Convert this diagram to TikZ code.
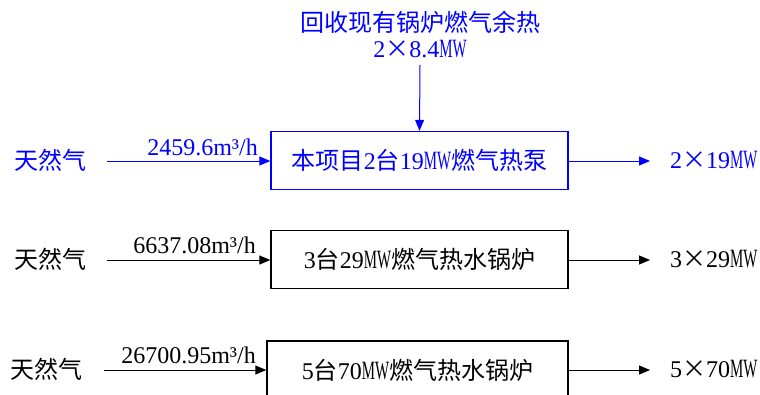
\documentclass[tikz,border=0pt]{standalone}
\usepackage{fontspec}
\usepackage{graphicx}
\setmainfont{Liberation Serif}
\newfontfamily\cjk{Noto Sans CJK SC}
\usetikzlibrary{arrows.meta}
\newcommand{\mwu}{\scalebox{0.62}[1.1]{MW}}
\newcommand{\tms}{{\cjk ×}}
\definecolor{pblue}{RGB}{0,0,255}
\tikzset{
  txt/.style={inner sep=0pt, font=\fontsize{24}{28}\selectfont},
  lbl/.style={inner sep=0pt, anchor=base east, font=\fontsize{24}{28}\selectfont},
  boxst/.style={draw, line width=1.4pt, minimum width=297pt, minimum height=58pt, inner sep=0pt, font=\fontsize{24}{28}\selectfont},
  arr/.style={line width=1pt, -{Triangle[length=11pt,width=9pt]}},
}
\begin{document}
\begin{tikzpicture}[x=1pt,y=-1pt]
\clip (0,0) rectangle (760,394);
\useasboundingbox (0,0) rectangle (760,394);
% top source
\node[txt, pblue, align=center] (src) at (420,34) {{\cjk 回收现有锅炉燃气余热}\\[-2pt]2\tms 8.4\mwu};
\coordinate (srcb) at (420,65);
% boxes
\node[boxst, pblue] (b1) at (419.5,160.5) {{\cjk 本项目}2{\cjk 台}19\mwu{\cjk 燃气热泵}};
\node[boxst] (b2) at (419.5,259.5) {3{\cjk 台}29\mwu{\cjk 燃气热水锅炉}};
\node[boxst, minimum width=301pt] (b3) at (417.5,370) {5{\cjk 台}70\mwu{\cjk 燃气热水锅炉}};
\draw[arr, pblue] (srcb) -- (b1.north);
% row 1
\node[txt, pblue] (g1) at (50,160) {\cjk 天然气};
\coordinate (i1) at (107,161);
\draw[arr, pblue] (i1) -- (i1 -| b1.west);
\node[lbl, pblue] (l1) at (258,155) {2459.6m³/h};
\coordinate (e1) at (650,161);
\draw[arr, pblue] (e1 -| b1.east) -- (e1);
\node[txt, pblue, anchor=west] (o1) at (670,160) {2\tms 19\mwu};
% row 2
\node[txt] (g2) at (50,259) {\cjk 天然气};
\coordinate (i2) at (107,260);
\draw[arr] (i2) -- (i2 -| b2.west);
\node[lbl] (l2) at (256,253) {6637.08m³/h};
\coordinate (e2) at (650,260);
\draw[arr] (e2 -| b2.east) -- (e2);
\node[txt, anchor=west] (o2) at (670,259) {3\tms 29\mwu};
% row 3
\node[txt] (g3) at (46,369) {\cjk 天然气};
\coordinate (i3) at (104,370);
\draw[arr] (i3) -- (i3 -| b3.west);
\node[lbl] (l3) at (256,363) {26700.95m³/h};
\coordinate (e3) at (650,370);
\draw[arr] (e3 -| b3.east) -- (e3);
\node[txt, anchor=west] (o3) at (670,369) {5\tms 70\mwu};
\end{tikzpicture}
\end{document}
